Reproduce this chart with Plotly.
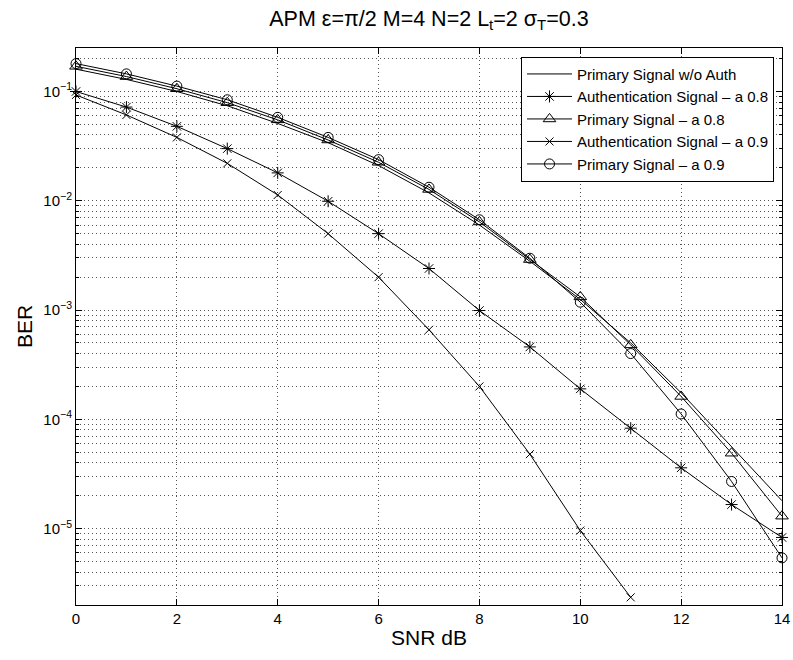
import plotly.graph_objects as go

snr = list(range(0, 15))
snr_auth09 = list(range(0, 12))

primary_noauth = [0.160, 0.129, 0.100, 0.074, 0.051, 0.034, 0.021, 0.0118, 0.0060, 0.0028,
                  0.00125, 0.00050, 0.000175, 5.6e-5, 1.8e-5]
auth_08 = [0.100, 0.072, 0.048, 0.030, 0.018, 0.0099, 0.0050, 0.0024, 0.00099, 0.00046,
           0.00019, 8.3e-5, 3.6e-5, 1.66e-5, 8.3e-6]
primary_08 = [0.170, 0.137, 0.106, 0.079, 0.055, 0.036, 0.0225, 0.0127, 0.0064, 0.0029,
              0.00132, 0.00048, 0.000162, 4.9e-5, 1.3e-5]
auth_09 = [0.093, 0.061, 0.038, 0.022, 0.0113, 0.0050, 0.0020, 0.00066, 0.00020, 4.8e-5,
           9.6e-6, 2.35e-6]
primary_09 = [0.180, 0.145, 0.112, 0.084, 0.058, 0.038, 0.0238, 0.0133, 0.0067, 0.00298,
              0.00118, 0.00040, 0.000112, 2.7e-5, 5.4e-6]

labels = ["Primary Signal w/o Auth", "Authentication Signal \u2013 a 0.8",
          "Primary Signal \u2013 a 0.8", "Authentication Signal \u2013 a 0.9",
          "Primary Signal \u2013 a 0.9"]

FONT = "Liberation Sans, Arial, Helvetica, sans-serif"
fig = go.Figure()

def add(x, y, name, symbol=None, size=9):
    mode = "lines+markers" if symbol else "lines"
    fig.add_trace(go.Scatter(
        x=x, y=y, name=name, mode=mode, cliponaxis=False,
        line=dict(color="black", width=1),
        marker=dict(symbol=symbol or "circle", size=size, color="black",
                    line=dict(color="black", width=1)) if symbol else None,
    ))

add(snr, primary_noauth, labels[0])
add(snr, auth_08, labels[1], "asterisk-open", 10)
add(snr, primary_08, labels[2], "triangle-up-open", 11)
add(snr_auth09, auth_09, labels[3], "x-thin-open", 8)
add(snr, primary_09, labels[4], "circle-open", 10)

minor_y = [k * 10.0 ** e for e in range(-6, 0) for k in range(2, 10)]
grid_dash = "1px,3px"

fig.update_layout(
    width=793, height=660,
    margin=dict(l=76, r=11, t=48, b=55, autoexpand=False),
    paper_bgcolor="white", plot_bgcolor="white",
    font=dict(family=FONT, color="black", size=15),
    title=dict(text="APM \u03b5=\u03c0/2 M=4 N=2 L<sub>t</sub>=2 \u03c3<sub>T</sub>=0.3",
               x=0.5, xref="paper", xanchor="center",
               y=1 - 18 / 660, yanchor="middle", font=dict(size=21.5)),
    showlegend=True,
    legend=dict(x=0.9887, y=0.9844, xanchor="right", yanchor="top",
                bgcolor="white", bordercolor="black", borderwidth=1,
                font=dict(size=15), itemwidth=45, tracegroupgap=0),
)

fig.update_xaxes(
    range=[0, 14], tickvals=list(range(0, 15, 2)), automargin=False,
    showline=True, linecolor="black", linewidth=1, mirror="allticks",
    ticks="inside", ticklen=6, tickcolor="black",
    showgrid=True, gridcolor="#555555", griddash=grid_dash, gridwidth=1,
    zeroline=False, tickfont=dict(size=15),
    title=dict(text="SNR dB", font=dict(size=21), standoff=4),
)
fig.update_yaxes(
    type="log", range=[-5.699, -0.602], automargin=False,
    tickvals=[1e-5, 1e-4, 1e-3, 1e-2, 1e-1],
    ticktext=["10<sup>\u22125</sup>", "10<sup>\u22124</sup>", "10<sup>\u22123</sup>",
              "10<sup>\u22122</sup>", "10<sup>\u22121</sup>"],
    showline=True, linecolor="black", linewidth=1, mirror="allticks",
    ticks="inside", ticklen=6, tickcolor="black",
    showgrid=True, gridcolor="#555555", griddash=grid_dash, gridwidth=1,
    minor=dict(tickmode="array", tickvals=minor_y, ticks="inside", ticklen=3,
               tickcolor="black", showgrid=True, gridcolor="#555555",
               griddash=grid_dash, gridwidth=1),
    zeroline=False, tickfont=dict(size=15),
    title=dict(text="BER", font=dict(size=21), standoff=4),
)

fig.write_html("out.html")
